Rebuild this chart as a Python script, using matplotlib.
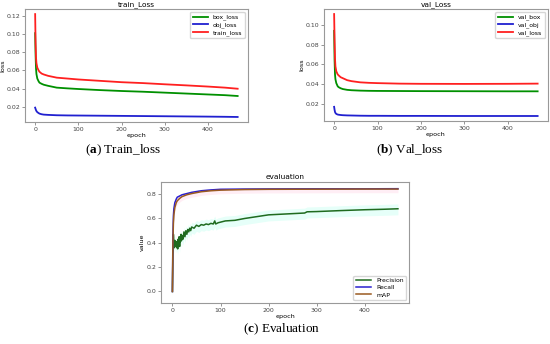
import numpy as np
import matplotlib.pyplot as plt

plt.rcParams['mathtext.fontset'] = 'custom'
plt.rcParams['mathtext.rm'] = 'Liberation Serif'
plt.rcParams['mathtext.bf'] = 'Liberation Serif:bold'

# train losses
ep_tr = [0, 1, 2, 3, 5, 8, 10, 15, 20, 30, 50, 75, 100, 150, 200, 250, 300, 350, 400, 440, 469]
train_loss = [0.122, 0.090, 0.074, 0.068, 0.063, 0.060, 0.0585, 0.0565, 0.0555, 0.054, 0.052, 0.051, 0.050, 0.0485, 0.047, 0.046, 0.0447, 0.0435, 0.0422, 0.041, 0.0398]
box_loss = [0.101, 0.077, 0.062, 0.056, 0.051, 0.048, 0.0465, 0.0452, 0.0442, 0.043, 0.041, 0.0402, 0.0395, 0.0383, 0.0373, 0.0365, 0.0355, 0.0345, 0.0335, 0.0327, 0.0318]
obj_loss = [0.0190, 0.0175, 0.0162, 0.0152, 0.0140, 0.0130, 0.0124, 0.0117, 0.0113, 0.0110, 0.0106, 0.0104, 0.0103, 0.0101, 0.0099, 0.0097, 0.0095, 0.0093, 0.0091, 0.0089, 0.0087]

# val losses
ep_val = [0, 1, 2, 3, 5, 8, 10, 15, 20, 30, 40, 60, 80, 100, 150, 200, 300, 400, 469]
val_loss = [0.111, 0.085, 0.066, 0.058, 0.053, 0.050, 0.049, 0.047, 0.046, 0.044, 0.043, 0.0418, 0.0413, 0.041, 0.0405, 0.0403, 0.0402, 0.0403, 0.0405]
val_box = [0.094, 0.065, 0.050, 0.045, 0.041, 0.038, 0.037, 0.0358, 0.035, 0.0342, 0.0338, 0.0334, 0.0332, 0.0331, 0.033, 0.0329, 0.0328, 0.0327, 0.0327]
val_obj = [0.0170, 0.0140, 0.0118, 0.0108, 0.0098, 0.0092, 0.0090, 0.0087, 0.0085, 0.0083, 0.0082, 0.0080, 0.0079, 0.0079, 0.0078, 0.0078, 0.0077, 0.0077, 0.0077]

# evaluation
ep_prec = [0, 1, 2, 3, 4, 5, 6, 7, 8, 9, 10, 11, 12, 13, 14, 15, 16, 17, 18, 19, 20, 22, 24, 26, 28, 30, 32, 34, 36, 38, 40,
           45, 50, 55, 60, 65, 70, 75, 80, 85, 88, 90, 95, 100, 110, 130, 150, 175, 200, 225, 250, 275, 280, 300, 350, 400, 440, 469]
precision = [0.0, 0.30, 0.47, 0.40, 0.36, 0.42, 0.38, 0.37, 0.41, 0.36, 0.40, 0.35, 0.43, 0.38, 0.45, 0.37, 0.44, 0.41, 0.47, 0.42, 0.46, 0.43, 0.49, 0.45, 0.50, 0.47, 0.51, 0.49, 0.52, 0.50, 0.53,
             0.52, 0.545, 0.535, 0.55, 0.545, 0.555, 0.55, 0.56, 0.555, 0.58, 0.555, 0.565, 0.57, 0.58, 0.585, 0.60, 0.615, 0.63, 0.635, 0.64, 0.645, 0.655, 0.657, 0.665, 0.672, 0.676, 0.68]
ep_eval = [0, 1, 2, 3, 5, 8, 10, 15, 20, 30, 40, 60, 80, 100, 150, 200, 300, 400, 469]
recall = [0.0, 0.45, 0.62, 0.68, 0.73, 0.76, 0.775, 0.785, 0.795, 0.805, 0.815, 0.828, 0.835, 0.84, 0.842, 0.843, 0.844, 0.844, 0.845]
mAP = [0.0, 0.40, 0.56, 0.63, 0.69, 0.73, 0.745, 0.765, 0.78, 0.795, 0.805, 0.82, 0.828, 0.833, 0.838, 0.84, 0.841, 0.842, 0.842]

fig = plt.figure(figsize=(5.5, 3.44), dpi=100)

def style(ax, title, ylabel):
    ax.set_title(title, fontsize=5.3, pad=2)
    ax.set_xlabel('epoch', fontsize=4.6, labelpad=1)
    ax.set_ylabel(ylabel, fontsize=4.6, labelpad=1)
    ax.tick_params(labelsize=4.5, length=2, width=0.4, pad=1.5, colors='#444444')
    for s in ax.spines.values():
        s.set_color('#999999')
        s.set_linewidth(0.8)

ax1 = fig.add_axes([0.0455, 0.645, 0.405, 0.329])
ax1.plot(ep_tr, box_loss, color='#009000', lw=1.3, label='box_loss')
ax1.plot(ep_tr, obj_loss, color='#2020d0', lw=1.3, label='obj_loss')
ax1.plot(ep_tr, train_loss, color='#ff2020', lw=1.3, label='train_loss')
style(ax1, 'train_Loss', 'loss')
ax1.set_yticks([0.02, 0.04, 0.06, 0.08, 0.10, 0.12])
ax1.legend(fontsize=4.4, loc='upper right', handlelength=2.5, borderpad=0.4, labelspacing=0.3)

ax2 = fig.add_axes([0.589, 0.648, 0.407, 0.326])
ax2.plot(ep_val, val_box, color='#009000', lw=1.3, label='val_box')
ax2.plot(ep_val, val_obj, color='#2020d0', lw=1.3, label='val_obj')
ax2.plot(ep_val, val_loss, color='#ff2020', lw=1.3, label='val_loss')
style(ax2, 'val_Loss', 'loss')
ax2.set_yticks([0.02, 0.04, 0.06, 0.08, 0.10])
ax2.legend(fontsize=4.4, loc='upper right', handlelength=2.5, borderpad=0.4, labelspacing=0.3)

ax3 = fig.add_axes([0.293, 0.119, 0.451, 0.352])
prec = np.array(precision)
ax3.fill_between(ep_prec, prec - 0.05, prec + 0.04, color='#e6fff9', lw=0)
ax3.fill_between(ep_eval, np.array(mAP) - 0.03, np.array(recall) + 0.01, color='#ffeef5', lw=0)
ax3.plot(ep_prec, precision, color='#1f6b1f', lw=1.1, label='Precision')
ax3.plot(ep_eval, recall, color='#2a20d0', lw=1.1, label='Recall')
ax3.plot(ep_eval, mAP, color='#9a5a20', lw=1.1, label='mAP')
style(ax3, 'evaluation', 'value')
ax3.set_yticks([0.0, 0.2, 0.4, 0.6, 0.8])
ax3.legend(fontsize=4.4, loc='lower right', handlelength=2.5, borderpad=0.4, labelspacing=0.3)

cap = dict(family='Liberation Serif', fontsize=9.5, ha='center', va='center')
fig.text(0.224, 0.562, r'($\mathbf{a}$) Train_loss', **cap)
fig.text(0.745, 0.562, r'($\mathbf{b}$) Val_loss', **cap)
fig.text(0.512, 0.044, r'($\mathbf{c}$) Evaluation', **cap)

fig.savefig('out.png', dpi=100)
